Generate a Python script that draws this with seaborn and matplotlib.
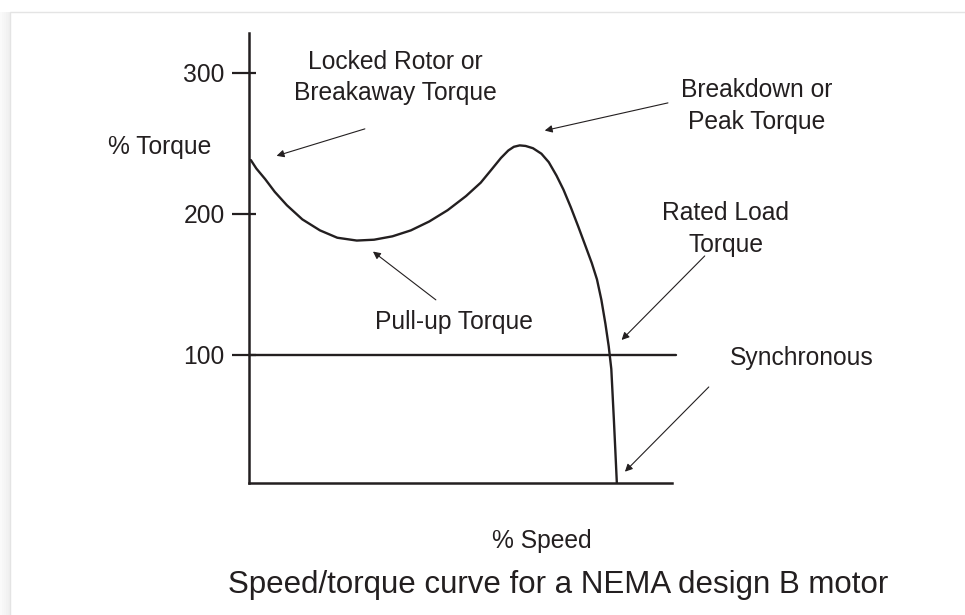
import numpy as np
import matplotlib
matplotlib.use('Agg')
import matplotlib.pyplot as plt
from matplotlib.patches import Rectangle
from matplotlib.ticker import FixedLocator
import seaborn as sns

# speed/torque curve (% speed, % torque)
speed = [0.5, 2.0, 4.4, 7.0, 10.3, 14.5, 19.3, 24.0, 29.3, 34.0, 39.0, 44.0, 49.0, 54.0,
         59.0, 63.0, 66.0, 68.5, 70.5, 72.0, 73.6, 75.2, 77.2, 79.5, 81.5, 83.6, 85.5,
         87.5, 89.5, 91.5, 93.2, 94.6, 95.8, 96.9, 97.8, 98.5, 99.2, 99.6, 100.0]
torque = [238.0, 232.0, 224.5, 215.5, 206.0, 196.0, 188.2, 183.0, 181.0, 181.6, 184.0,
          188.2, 194.5, 202.5, 212.5, 222.0, 231.5, 239.5, 244.8, 247.4, 248.4, 248.0,
          246.4, 242.5, 236.5, 227.0, 217.0, 204.5, 191.0, 177.0, 165.0, 153.5, 139.0,
          122.0, 106.0, 90.0, 54.0, 32.0, 9.5]

yticks = [100, 200, 300]
rated_load = 100
line_end = 116

sns.set_style('white')
plt.rcParams['font.family'] = ['Liberation Sans', 'DejaVu Sans']
ink = '#231f20'

fig = plt.figure(figsize=(9.65, 6.15), dpi=100)

# card frame with soft shadow on the left (kept behind the axes)
for i, a in enumerate([0.02, 0.03, 0.04, 0.05, 0.06]):
    fig.patches.append(Rectangle((i * 2 / 965, 0), 2 / 965, 1 - 12 / 615,
                                 transform=fig.transFigure, color='k', alpha=a, lw=0,
                                 zorder=-5))
fig.patches.append(Rectangle((10 / 965, -0.05), 1.1, 1 - 12 / 615 + 0.05,
                             transform=fig.transFigure, facecolor='white',
                             edgecolor='#e4e4e4', lw=1, zorder=-4))

ax = fig.add_axes([249 / 965, 1 - 482.7 / 615, (672 - 249) / 965, (482.7 - 33) / 615])
ax.set_facecolor('none')

sns.lineplot(x=speed, y=torque, sort=False, estimator=None, color=ink, lw=1.7, ax=ax,
             solid_joinstyle='round')
ax.plot([0, line_end], [rated_load, rated_load], color=ink, lw=1.7, clip_on=False)

ax.set_xlim(0, 115)
ax.set_ylim(9.5, 328)
sns.despine(ax=ax)
for s in ['left', 'bottom']:
    ax.spines[s].set_linewidth(1.8)
    ax.spines[s].set_color(ink)
ax.set_xticks([])
ax.set_yticks(yticks)
ax.set_yticklabels([str(t) for t in yticks], fontsize=17.7, color=ink)
# ticks poke out further than they reach in
ax.yaxis.set_minor_locator(FixedLocator(yticks))
ax.yaxis.remove_overlapping_locs = False
ax.tick_params(axis='y', which='major', left=True, direction='out', length=12,
               width=1.6, color=ink, pad=5.5)
ax.tick_params(axis='y', which='minor', left=True, direction='in', length=5.3,
               width=1.6, color=ink)

fs = 17.7
txt = dict(fontsize=fs, color=ink, ha='center', va='center', linespacing=1.39)
ax.text(-24.2, 247.4, '% Torque', **txt)
ax.text(79.6, -31.8, '% Speed', **txt)
ax.text(39.7, 296.6, 'Locked Rotor or\nBreakaway Torque', **txt)
ax.text(138, 276.4, 'Breakdown or\nPeak Torque', **txt)
ax.text(129.6, 189.3, 'Rated Load\nTorque', **txt)
ax.text(55.7, 123.4, 'Pull-up Torque', **txt)
ax.text(150.3, 97.9, 'Synchronous', **txt)

arrow = dict(arrowstyle='-|>', lw=0.8, color=ink, mutation_scale=11, shrinkA=0, shrinkB=0)
for head, tail in [((7.5, 241), (31.5, 260.1)),
                   ((80.4, 258.9), (113.9, 278.5)),
                   ((101.3, 110.6), (123.9, 170.1)),
                   ((33.7, 173.2), (50.8, 139)),
                   ((102.2, 17.3), (125, 77.3))]:
    ax.annotate('', xy=head, xytext=tail, arrowprops=arrow, annotation_clip=False)

fig.text(558 / 965, 1 - 585 / 615, 'Speed/torque curve for a NEMA design B motor',
         fontsize=22.5, color=ink, ha='center', va='center')

fig.savefig('out.png', dpi=100)
